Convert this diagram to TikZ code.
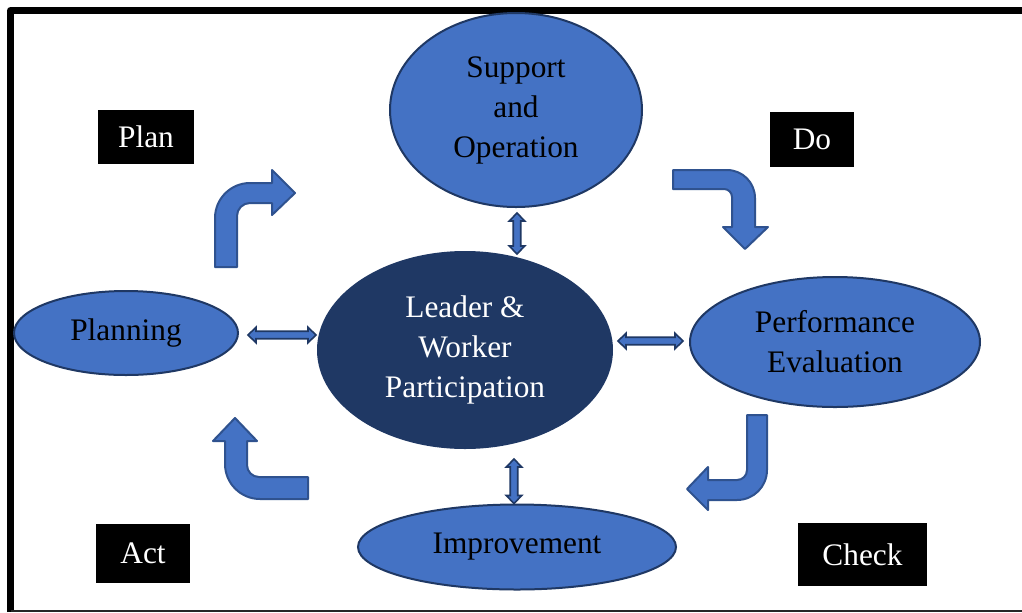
\documentclass[tikz,border=0pt]{standalone}
\usepackage{fontspec}
\setmainfont{Liberation Serif}
\usetikzlibrary{calc,shapes.geometric}
\definecolor{blueA}{HTML}{4472C4}
\definecolor{navy}{HTML}{1F3864}
\definecolor{edgeblue}{HTML}{2F528F}
\tikzset{
  stage/.style={ellipse, draw=navy, line width=1.5pt, fill=blueA, inner sep=0pt,
    align=center, font=\fontsize{23.5}{30}\selectfont, text=black},
  hub/.style={stage, fill=navy, text=white},
  phase/.style={fill=black, text=white, inner sep=0pt, font=\fontsize{23.5}{30}\selectfont},
  bent/.style={fill=blueA, draw=edgeblue, line width=1.5pt, line join=round},
  link/.style={fill=blueA, draw=navy, line width=1.2pt, line join=miter},
}
% two-headed block arrows: horizontal uses the y of the first point, vertical the x
\newcommand{\hlink}[2]{\draw[link] let \p1=(#1), \p2=(#2) in
  (\x1,\y1) -- (\x1+6pt,\y1+5.8pt) -- (\x1+6pt,\y1+2.8pt) -- (\x2-6pt,\y1+2.8pt)
  -- (\x2-6pt,\y1+5.8pt) -- (\x2,\y1) -- (\x2-6pt,\y1-5.8pt) -- (\x2-6pt,\y1-2.8pt)
  -- (\x1+6pt,\y1-2.8pt) -- (\x1+6pt,\y1-5.8pt) -- cycle;}
\newcommand{\vlink}[2]{\draw[link] let \p1=(#1), \p2=(#2) in
  (\x1,\y1) -- (\x1+5.8pt,\y1-6pt) -- (\x1+2.8pt,\y1-6pt) -- (\x1+2.8pt,\y2+6pt)
  -- (\x1+5.8pt,\y2+6pt) -- (\x1,\y2) -- (\x1-5.8pt,\y2+6pt) -- (\x1-2.8pt,\y2+6pt)
  -- (\x1-2.8pt,\y1-6pt) -- (\x1-5.8pt,\y1-6pt) -- cycle;}
\begin{document}
\begin{tikzpicture}[x=0.75pt, y=-0.75pt]
\useasboundingbox (0,0) rectangle (1022,612);
\fill[white] (0,0) rectangle (1022,612);

% frame
\draw[line width=5.25pt, line join=round] (10.5,612) -- (10.5,10.5) -- (1022,10.5);
\draw[line width=1.5pt, black!85] (10.5,610.5) -- (1022,610.5);

% stages
\node[stage, minimum width=189pt, minimum height=145.5pt] (sup) at (516,110) {Support\\and\\Operation};
\node[hub, minimum width=220.5pt, minimum height=147pt] (lead) at (465,350) {Leader \&\\Worker\\Participation};
\node[stage, minimum width=168pt, minimum height=63pt] (plan) at (126,333) {Planning};
\node[stage, minimum width=217.5pt, minimum height=97.5pt] (perf) at (835,342) {Performance\\Evaluation};
\node[stage, minimum width=238.5pt, minimum height=63.75pt] (impr) at (517,547) {Improvement};

% PDCA labels
\node[phase, minimum width=72pt, minimum height=40.5pt] (bplan) at (146,137) {Plan};
\node[phase, minimum width=63pt, minimum height=41.25pt] (bdo) at (812,139.5) {Do};
\node[phase, minimum width=70.5pt, minimum height=44.25pt] (bact) at (143,553.5) {Act};
\node[phase, minimum width=96.75pt, minimum height=47.25pt] (bcheck) at (862.5,554.5) {Check};

% links to the centre
\coordinate (pl1) at ($(plan.east)+(9,2)$);
\coordinate (pl2) at ($(lead.west)+(-1,0)$);
\hlink{pl1}{pl2}
\coordinate (pr1) at ($(lead.east)+(5,-9)$);
\coordinate (pr2) at ($(perf.west)+(-6,0)$);
\hlink{pr1}{pr2}
\coordinate (pt1) at ($(sup.south)+(1,5)$);
\coordinate (pt2) at ($(lead.north -| sup.south)+(0,3)$);
\vlink{pt1}{pt2}
\coordinate (pb1) at ($(lead.south -| impr.north)+(-3,10)$);
\coordinate (pb2) at (impr.north);
\vlink{pb1}{pb2}

% cycle arrows
\draw[bent] (215,267) -- (215,218) .. controls (215,198.7) and (230.7,183) .. (250,183)
  -- (272,183) -- (272,170) -- (295,193) -- (272,215) -- (272,203) -- (250,203)
  .. controls (242.8,203) and (237,208.8) .. (237,216) -- (237,267) -- cycle;
\draw[bent] (673,170) -- (727,170) .. controls (742.5,170) and (755,182.5) .. (755,198)
  -- (755,227) -- (768,227) -- (745,249) -- (723,227) -- (732,227) -- (732,197)
  .. controls (732,192.6) and (728.4,189) .. (724,189) -- (673,189) -- cycle;
\draw[bent] (747,415) -- (767,415) -- (767,470) .. controls (767,486.6) and (753.6,500) .. (737,500)
  -- (708,500) -- (708,510) -- (687,489) -- (708,467) -- (708,480) -- (737,480)
  .. controls (742.5,480) and (747,475.5) .. (747,470) -- cycle;
\draw[bent] (308,477) -- (259,477) .. controls (252.4,477) and (247,471.6) .. (247,465)
  -- (247,441) -- (257,441) -- (235,418) -- (213,441) -- (225,441) -- (225,464)
  .. controls (225,483.3) and (240.7,499) .. (260,499) -- (308,499) -- cycle;
\end{tikzpicture}
\end{document}
